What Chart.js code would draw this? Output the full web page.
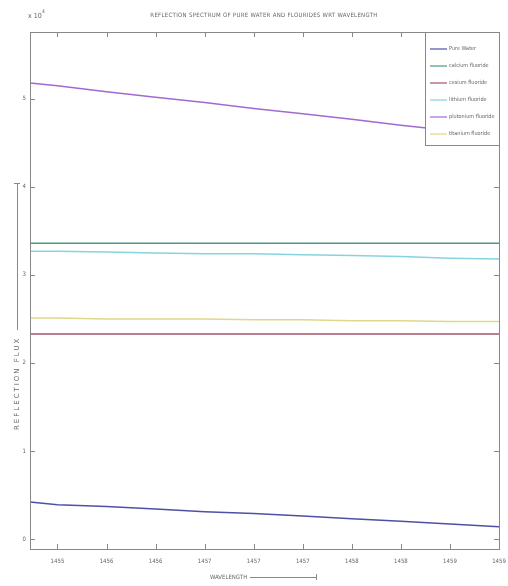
<!DOCTYPE html>
<html>
<head>
<meta charset="utf-8">
<script src="https://cdn.jsdelivr.net/npm/chart.js@4.4.1/dist/chart.umd.min.js"></script>
<style>
  html, body { margin: 0; padding: 0; background: #fff; }
  #wrap { width: 508px; height: 586px; }
</style>
</head>
<body>
<div id="wrap"><canvas id="spectrum"></canvas></div>
<script>
// wavelength samples and reflection flux per medium (x10^4)
const wavelength = [1454.72, 1455.0, 1455.5, 1456.0, 1456.5, 1457.0, 1457.5, 1458.0, 1458.5, 1459.0, 1459.5];
const pureWater = [0.42, 0.39, 0.37, 0.34, 0.31, 0.29, 0.26, 0.23, 0.20, 0.17, 0.14];
const calciumFluoride = [3.36, 3.36, 3.36, 3.36, 3.36, 3.36, 3.36, 3.36, 3.36, 3.36, 3.36];
const cesiumFluoride = [2.33, 2.33, 2.33, 2.33, 2.33, 2.33, 2.33, 2.33, 2.33, 2.33, 2.33];
const lithiumFluoride = [3.27, 3.27, 3.26, 3.25, 3.24, 3.24, 3.23, 3.22, 3.21, 3.19, 3.18];
const plutoniumFluoride = [5.18, 5.15, 5.08, 5.02, 4.96, 4.89, 4.83, 4.77, 4.70, 4.64, 4.57];
const titaniumFluoride = [2.51, 2.51, 2.50, 2.50, 2.50, 2.49, 2.49, 2.48, 2.48, 2.47, 2.47];

const seriesNames = ['Pure Water', 'calcium fluoride', 'cesium fluoride', 'lithium fluoride', 'plutonium fluoride', 'titanium fluoride'];
const seriesValues = [pureWater, calciumFluoride, cesiumFluoride, lithiumFluoride, plutoniumFluoride, titaniumFluoride];
const seriesColors = ['#4f4fa6', '#4f9784', '#a3506a', '#86d3df', '#a06ad2', '#ddd98c'];

const xTickValues = [1455, 1455.5, 1456, 1456.5, 1457, 1457.5, 1458, 1458.5, 1459, 1459.5];
const xTickLabels = ['1455', '1456', '1456', '1457', '1457', '1457', '1458', '1458', '1459', '1459'];
const yTickValues = [0, 1, 2, 3, 4, 5];
const yTickLabels = ['0', '1', '2', '3', '4', '5'];

const txt = '#666';
const smallFont = '6px "DejaVu Sans Condensed", "Liberation Sans", sans-serif';

const datasets = seriesNames.map((name, i) => ({
  label: name,
  data: wavelength.map((w, j) => ({ x: w, y: seriesValues[i][j] })),
  borderColor: seriesColors[i],
  borderWidth: 1.5,
  pointRadius: 0,
  tension: 0,
  fill: false
}));

// axes box, inward ticks, labels and legend drawn in matlab style
const decorations = {
  id: 'decorations',
  afterDraw(chart) {
    const { ctx, chartArea: a, scales } = chart;
    ctx.save();
    ctx.strokeStyle = '#888';
    ctx.lineWidth = 1;
    ctx.strokeRect(a.left + 0.5, a.top + 0.5, a.right - a.left, a.bottom - a.top);

    ctx.beginPath();
    xTickValues.forEach(v => {
      const px = Math.round(scales.x.getPixelForValue(v)) + 0.5;
      ctx.moveTo(px, a.bottom); ctx.lineTo(px, a.bottom - 5);
      ctx.moveTo(px, a.top); ctx.lineTo(px, a.top + 5);
    });
    yTickValues.forEach(v => {
      const py = Math.round(scales.y.getPixelForValue(v)) + 0.5;
      ctx.moveTo(a.left, py); ctx.lineTo(a.left + 5, py);
      ctx.moveTo(a.right, py); ctx.lineTo(a.right - 5, py);
    });
    ctx.stroke();

    ctx.fillStyle = txt;
    ctx.font = smallFont;
    ctx.textAlign = 'center';
    ctx.textBaseline = 'middle';
    ctx.letterSpacing = '0.3px';
    ctx.fillText('REFLECTION SPECTRUM OF PURE WATER AND FLOURIDES WRT WAVELENGTH', 264, 15);
    ctx.letterSpacing = '0px';

    // exponent marker
    ctx.textAlign = 'left';
    ctx.font = '7px "DejaVu Sans Condensed", sans-serif';
    ctx.fillText('x 10', 28, 16);
    ctx.font = '5px "DejaVu Sans Condensed", sans-serif';
    ctx.fillText('4', 42, 12);

    // x axis label with arrow
    ctx.font = smallFont;
    ctx.textAlign = 'left';
    ctx.fillText('WAVELENGTH', 210, 577);
    ctx.beginPath();
    ctx.moveTo(250, 577.5); ctx.lineTo(316, 577.5);
    ctx.moveTo(316.5, 574); ctx.lineTo(316.5, 580);
    ctx.stroke();

    // y axis label with arrow
    ctx.save();
    ctx.translate(17, 430);
    ctx.rotate(-Math.PI / 2);
    ctx.font = '7px "DejaVu Sans", sans-serif';
    ctx.letterSpacing = '2px';
    ctx.fillText('REFLECTION FLUX', 0, 0);
    ctx.letterSpacing = '0px';
    ctx.beginPath();
    ctx.moveTo(100, 0.5); ctx.lineTo(246, 0.5);
    ctx.moveTo(246.5, -3); ctx.lineTo(246.5, 3);
    ctx.stroke();
    ctx.restore();

    // legend
    const lx = 425, ly = a.top, lw = a.right - lx, lh = 113;
    ctx.fillStyle = '#fff';
    ctx.fillRect(lx, ly, lw, lh);
    ctx.strokeStyle = '#888';
    ctx.strokeRect(lx + 0.5, ly + 0.5, lw, lh);
    ctx.font = '5.5px "DejaVu Sans Condensed", sans-serif';
    ctx.textBaseline = 'middle';
    chart.data.datasets.forEach((ds, i) => {
      const y = ly + 17 + i * 17;
      ctx.strokeStyle = ds.borderColor;
      ctx.lineWidth = 1.2;
      ctx.beginPath();
      ctx.moveTo(lx + 5, y); ctx.lineTo(lx + 22, y);
      ctx.stroke();
      ctx.fillStyle = txt;
      ctx.fillText(ds.label, lx + 24, y);
    });
    ctx.restore();
  }
};

new Chart(document.getElementById('spectrum'), {
  type: 'line',
  data: { datasets },
  options: {
    responsive: true,
    maintainAspectRatio: false,
    animation: false,
    layout: { padding: { top: 32, right: 9, left: 0, bottom: 0 } },
    plugins: {
      legend: { display: false },
      title: { display: false },
      tooltip: { enabled: false }
    },
    scales: {
      x: {
        type: 'linear',
        min: 1454.72,
        max: 1459.5,
        grid: { display: false, drawTicks: false },
        border: { display: false },
        afterBuildTicks: s => { s.ticks = xTickValues.map(v => ({ value: v })); },
        afterFit: s => { s.height = 37; s.paddingLeft = 0; s.paddingRight = 0; },
        ticks: {
          padding: 9,
          color: txt,
          font: { size: 6, family: '"DejaVu Sans Condensed", sans-serif' },
          maxRotation: 0,
          autoSkip: false,
          callback: (v, i) => xTickLabels[i]
        }
      },
      y: {
        min: -0.114,
        max: 5.76,
        grid: { display: false, drawTicks: false },
        border: { display: false },
        afterBuildTicks: s => { s.ticks = yTickValues.map(v => ({ value: v })); },
        afterFit: s => { s.width = 30; s.paddingTop = 0; s.paddingBottom = 0; },
        ticks: {
          padding: 4,
          color: txt,
          font: { size: 6, family: '"DejaVu Sans Condensed", sans-serif' },
          autoSkip: false,
          callback: (v, i) => yTickLabels[i]
        }
      }
    }
  },
  plugins: [decorations]
});
</script>
</body>
</html>
